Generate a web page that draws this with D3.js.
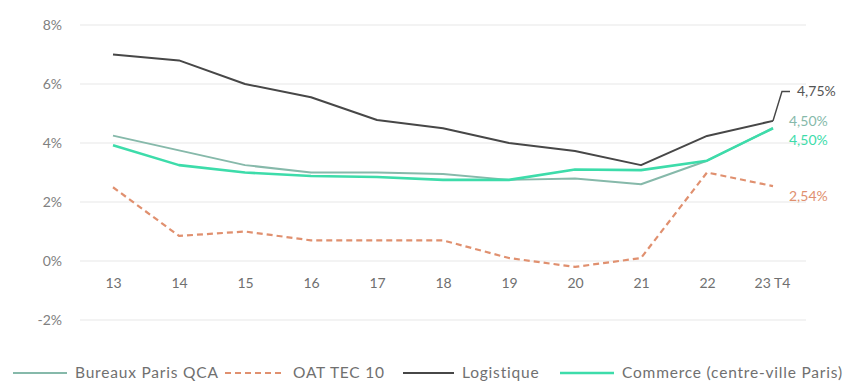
<!DOCTYPE html>
<html>
<head>
<meta charset="utf-8">
<script src="https://cdn.jsdelivr.net/npm/d3@7"></script>
<style>
  body { margin: 0; background: #fff; }
  svg { display: block; font-family: Lato, "Open Sans", sans-serif; }
</style>
</head>
<body>
<div id="chart"></div>
<script>
// data
const years = ["13", "14", "15", "16", "17", "18", "19", "20", "21", "22", "23 T4"];
const bureaux = [4.25, 3.75, 3.25, 3.0, 3.0, 2.95, 2.75, 2.8, 2.6, 3.4, 4.5];
const oat = [2.5, 0.85, 1.0, 0.7, 0.7, 0.7, 0.1, -0.2, 0.1, 3.0, 2.54];
const logistique = [7.0, 6.8, 6.0, 5.55, 4.78, 4.5, 4.0, 3.73, 3.25, 4.24, 4.75];
const commerce = [3.92, 3.25, 3.0, 2.88, 2.85, 2.75, 2.75, 3.1, 3.08, 3.4, 4.5];
const yTicks = [-2, 0, 2, 4, 6, 8];
const legendNames = ["Bureaux Paris QCA", "OAT TEC 10", "Logistique", "Commerce (centre-ville Paris)"];
const endLabels = ["4,75%", "4,50%", "4,50%", "2,54%"];

function init() {
    const W = 846, H = 382;
    const svg = d3.select("#chart").append("svg")
        .attr("width", W).attr("height", H);

    // scales
    const x = d3.scalePoint().domain(years).range([113, 773]);
    const y = d3.scaleLinear().domain([-2, 8]).range([320, 25]);

    // gridlines
    svg.append("g").selectAll("line")
        .data(yTicks).enter().append("line")
        .attr("x1", 80).attr("x2", 806)
        .attr("y1", d => y(d)).attr("y2", d => y(d))
        .attr("stroke", "#e8e8e8").attr("stroke-width", 1.2);

    // y axis
    const yAxis = svg.append("g")
        .attr("transform", "translate(62,0)")
        .call(d3.axisLeft(y).tickValues(yTicks).tickSize(0).tickFormat(d => d + "%"));
    yAxis.select(".domain").remove();
    yAxis.selectAll("text")
        .attr("x", 0)
        .style("font-family", "Lato, sans-serif")
        .style("font-size", "14px")
        .attr("fill", "#808080");

    // x axis, placed under the 0% line
    const xAxis = svg.append("g")
        .attr("transform", `translate(0,${y(0) + 14})`)
        .call(d3.axisBottom(x).tickSize(0));
    xAxis.select(".domain").remove();
    xAxis.selectAll("text")
        .style("font-family", "Lato, sans-serif")
        .style("font-size", "14px")
        .attr("fill", "#707070")
        .attr("dx", (d, i) => i === years.length - 1 ? -1 : 0);

    const series = [
        { name: legendNames[0], values: bureaux, color: "#86b9aa", width: 2, dash: null },
        { name: legendNames[1], values: oat, color: "#e0906f", width: 2.2, dash: "6,4" },
        { name: legendNames[2], values: logistique, color: "#474747", width: 2, dash: null },
        { name: legendNames[3], values: commerce, color: "#3ddcaa", width: 2.6, dash: null }
    ];

    const line = d3.line()
        .x((d, i) => x(years[i]))
        .y(d => y(d));

    svg.append("g").selectAll("path")
        .data(series).enter().append("path")
        .attr("d", d => line(d.values))
        .attr("fill", "none")
        .attr("stroke", d => d.color)
        .attr("stroke-width", d => d.width)
        .attr("stroke-dasharray", d => d.dash)
        .attr("stroke-linejoin", "round");

    // end labels
    const last = years.length - 1;
    const lastX = x(years[last]);
    // logistique label sits above with a small leader line
    svg.append("path")
        .attr("d", `M${lastX},${y(logistique[last])} L${lastX + 9},${y(5.75)} L${lastX + 17},${y(5.75)}`)
        .attr("fill", "none").attr("stroke", "#474747").attr("stroke-width", 1.5);

    const labels = [
        { text: endLabels[0], v: 5.75, color: "#555", dx: 24 },
        { text: endLabels[1], v: 4.75, color: "#86b9aa", dx: 16 },
        { text: endLabels[2], v: 4.1, color: "#3ddcaa", dx: 16 },
        { text: endLabels[3], v: 2.2, color: "#e0906f", dx: 16 }
    ];
    svg.append("g").selectAll("text")
        .data(labels).enter().append("text")
        .attr("x", d => lastX + d.dx)
        .attr("y", d => y(d.v))
        .attr("dy", "0.35em")
        .attr("fill", d => d.color)
        .style("font-size", "14px")
        .text(d => d.text);

    // legend
    const legendPos = [[13, 75], [225, 293], [403, 462], [560, 622]];
    const legend = svg.append("g").attr("transform", "translate(0,373)");
    const items = legend.selectAll("g")
        .data(series).enter().append("g");
    items.append("line")
        .attr("x1", (d, i) => legendPos[i][0])
        .attr("x2", (d, i) => legendPos[i][1] - 8)
        .attr("y1", 0).attr("y2", 0)
        .attr("stroke", d => d.color)
        .attr("stroke-width", d => d.width)
        .attr("stroke-dasharray", d => d.dash);
    items.append("text")
        .attr("x", (d, i) => legendPos[i][1])
        .attr("y", 0)
        .attr("dy", "0.35em")
        .attr("fill", "#707070")
        .style("font-size", "15.5px")
        .style("letter-spacing", "0.8px")
        .text(d => d.name);
}

window.onload = init;
</script>
</body>
</html>
